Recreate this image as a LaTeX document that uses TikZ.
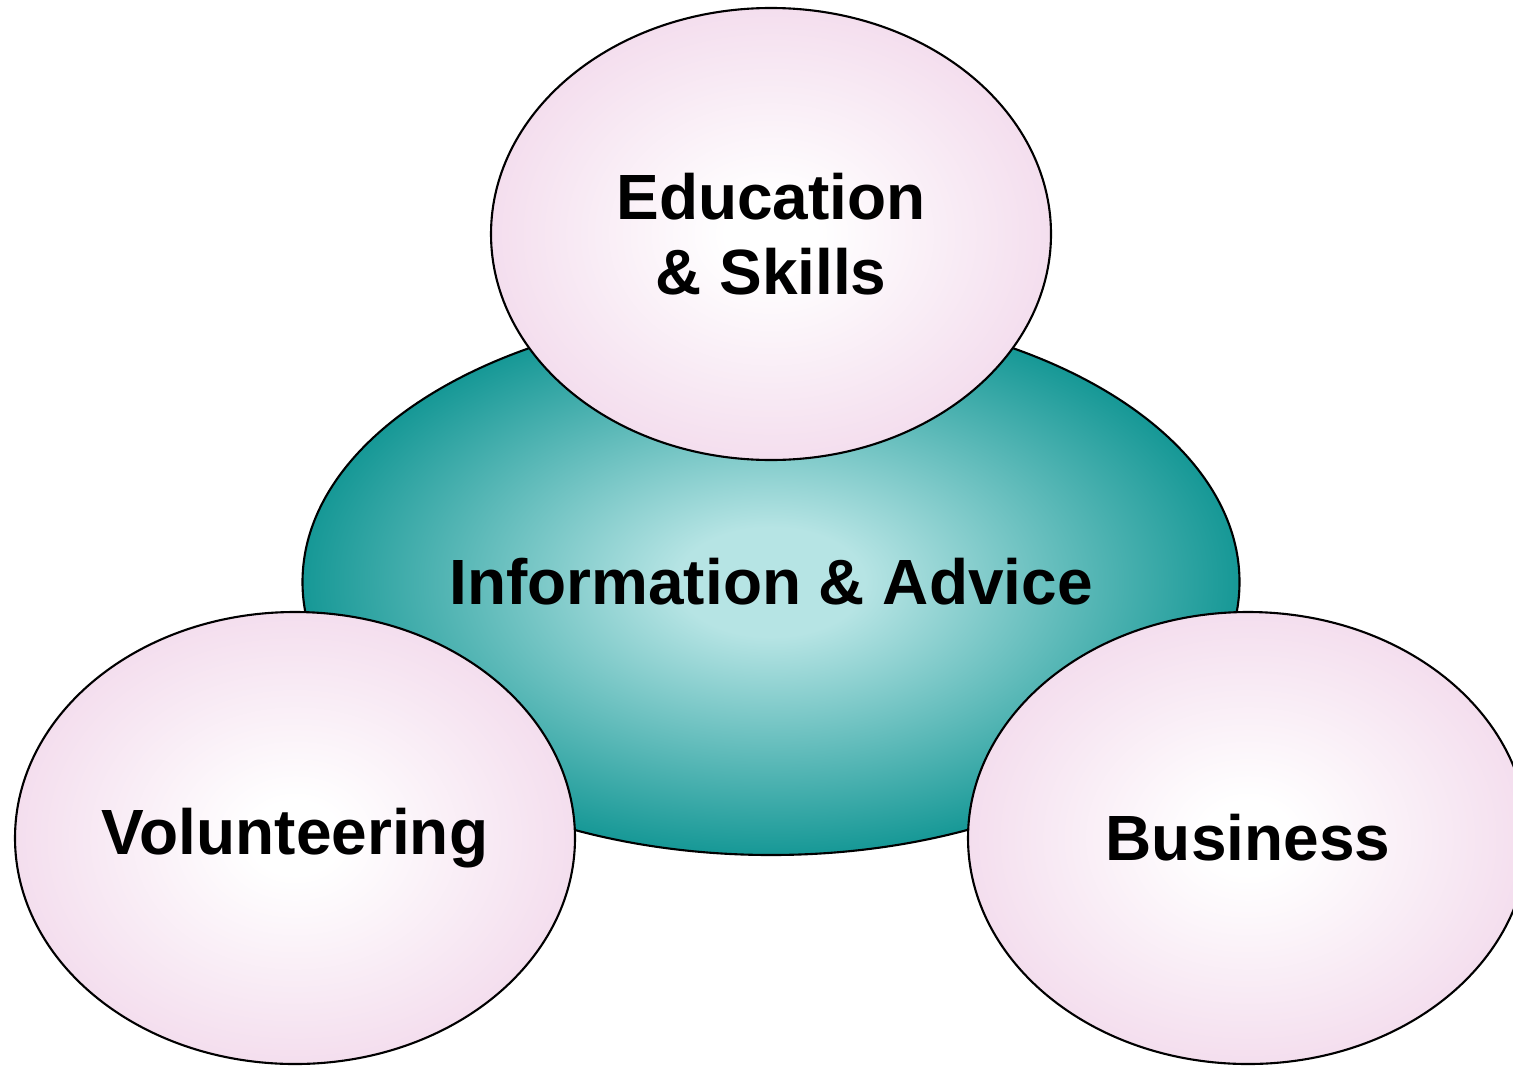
\documentclass[tikz,border=0pt]{standalone}
\usepackage{fontspec}
\setmainfont{Liberation Sans}
\usepackage{tikz}
\usetikzlibrary{shapes.geometric}

% Color definitions
\definecolor{tealC}{RGB}{22,152,150}
\definecolor{tealL}{RGB}{182,228,228}
\definecolor{pinkC}{RGB}{244,222,238}

% Soft radial fills
\pgfdeclareradialshading{hubshade}{\pgfpoint{0bp}{0bp}}{%
  color(0bp)=(tealL); color(5bp)=(tealL); color(25bp)=(tealC); color(50bp)=(tealC)}
\pgfdeclareradialshading{areashade}{\pgfpoint{0bp}{0bp}}{%
  color(0bp)=(white); color(4bp)=(white); color(25bp)=(pinkC); color(50bp)=(pinkC)}

\begin{document}
\begin{tikzpicture}[
    topic/.style={draw, ellipse, inner sep=0pt, line width=0.6pt,
                  font=\bfseries\fontsize{18.2}{21.3}\selectfont, align=center},
    hub/.style={topic, minimum width=9.37cm, minimum height=5.46cm,
                shading=hubshade},
    area/.style={topic, minimum width=5.6cm, minimum height=4.52cm,
                 shading=areashade},
]

% Canvas (reference proportions)
\useasboundingbox (0,0) rectangle (15.13,10.67);
\clip (0,0) rectangle (15.13,10.67);

% Centre
\node[hub] (info) at (7.71,4.85) {Information \& Advice};

% Surrounding areas
\node[area] (edu) at (7.71,8.33) {Education\\ \& Skills};
\node[area] (vol) at (2.95,2.29) {Volunteering};
\node[area] (bus) at (12.48,2.29) {Business};

\end{tikzpicture}
\end{document}
